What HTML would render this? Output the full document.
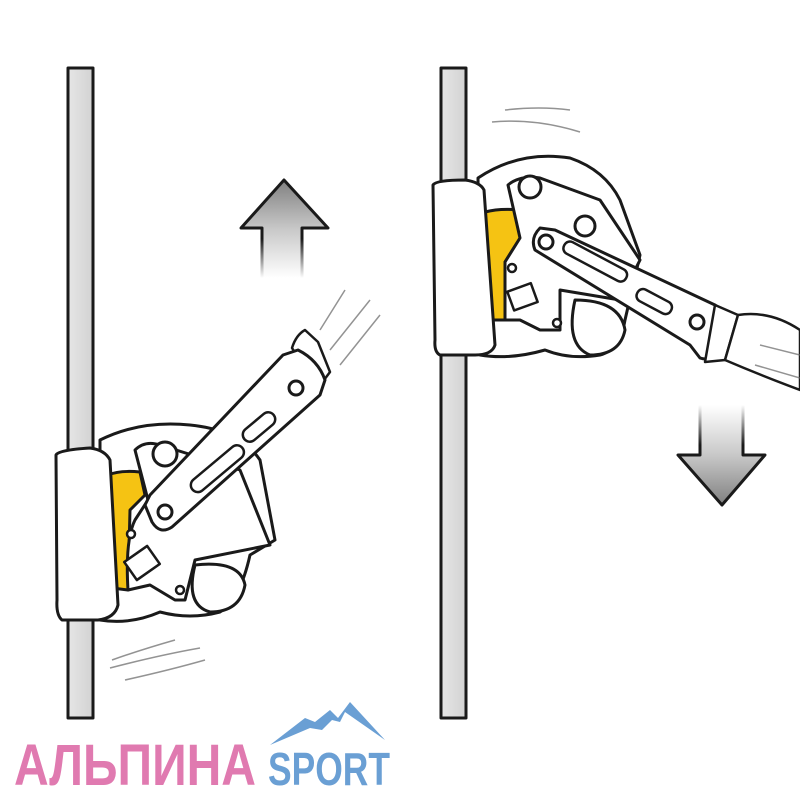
<!DOCTYPE html>
<html><head><meta charset="utf-8"><style>
html,body{margin:0;padding:0;background:#fff;width:800px;height:800px;overflow:hidden}
</style></head><body>
<svg width="800" height="800" viewBox="0 0 800 800" xmlns="http://www.w3.org/2000/svg">
<defs>
<linearGradient id="gu" x1="0" y1="180" x2="0" y2="278" gradientUnits="userSpaceOnUse"><stop offset="0" stop-color="#808080"/><stop offset="0.5" stop-color="#c8c8c8"/><stop offset="1" stop-color="#fff"/></linearGradient>
<linearGradient id="gus" x1="0" y1="180" x2="0" y2="278" gradientUnits="userSpaceOnUse"><stop offset="0" stop-color="#1a1a1a"/><stop offset="0.6" stop-color="#1a1a1a"/><stop offset="1" stop-color="#fff"/></linearGradient>
<linearGradient id="gd" x1="0" y1="505" x2="0" y2="405" gradientUnits="userSpaceOnUse"><stop offset="0" stop-color="#808080"/><stop offset="0.5" stop-color="#c8c8c8"/><stop offset="1" stop-color="#fff"/></linearGradient>
<linearGradient id="gds" x1="0" y1="505" x2="0" y2="405" gradientUnits="userSpaceOnUse"><stop offset="0" stop-color="#1a1a1a"/><stop offset="0.6" stop-color="#1a1a1a"/><stop offset="1" stop-color="#fff"/></linearGradient>
<linearGradient id="rp" x1="0" y1="0" x2="1" y2="0"><stop offset="0" stop-color="#e6e6e6"/><stop offset="1" stop-color="#d2d2d2"/></linearGradient>
</defs>
<g stroke="#1a1a1a" stroke-width="3" stroke-linejoin="round" stroke-linecap="round">
<rect x="68" y="68" width="25" height="650" fill="url(#rp)"/>
<rect x="441" y="68" width="25" height="650" fill="url(#rp)"/>

<!-- LEFT DEVICE -->
<path d="M100 440 Q140 420 190 425 Q240 430 260 460 L275 540 L250 555 Q240 600 220 612 Q190 620 160 612 Q130 625 100 620 Z" fill="#fff"/>
<path d="M195 565 Q240 560 245 585 Q240 612 210 612 Q185 605 195 565Z" fill="#fff"/>
<path d="M108 475 Q120 470 140 472 L145 495 L130 510 L128 590 L112 588 Q105 530 108 475Z" fill="#f5c313"/>
<path d="M135 450 Q145 440 160 445 L240 470 L270 545 L195 560 L185 600 L175 600 L150 585 L128 590 Q125 540 135 520 L148 500 Z" fill="#fff"/>
<rect x="128" y="552" width="28" height="22" transform="rotate(-35 142 563)" fill="#fff" stroke-width="2.5"/>
<circle cx="131" cy="534" r="4" fill="#fff" stroke-width="2.5"/>
<circle cx="180" cy="590" r="4" fill="#fff" stroke-width="2.5"/>
<!-- left sleeve -->
<path d="M292 348 Q296 335 305 330 L318 342 L330 372 L318 388 Z" fill="#fff" stroke-width="2.5"/>
<!-- lever left -->
<path d="M283 355 L298 350 Q318 360 325 380 L320 395 L172 527 Q160 535 152 522 L145 505 L150 495 Z" fill="#fff"/>
<circle cx="165" cy="454" r="12" fill="#fff"/>
<circle cx="165" cy="512" r="7" fill="#fff"/>
<circle cx="296" cy="388" r="7" fill="#fff"/>
<rect x="185" y="462" width="65" height="14" rx="7" transform="rotate(-40 217 469)" fill="#fff" stroke-width="2.5"/>
<rect x="240" y="420" width="38" height="14" rx="7" transform="rotate(-40 259 427)" fill="#fff" stroke-width="2.5"/>
<path d="M56 455 Q58 450 90 448 Q105 450 110 460 L118 605 Q115 618 98 620 L62 620 Q56 615 57 600 Z" fill="#fff"/>

<!-- RIGHT DEVICE -->
<path d="M478 178 Q520 150 570 158 Q605 170 620 200 L640 255 L625 320 Q620 350 600 355 Q570 360 545 350 Q510 360 480 355 Z" fill="#fff"/>
<path d="M575 300 Q620 300 625 330 Q620 355 590 355 Q565 345 575 300Z" fill="#fff"/>
<path d="M485 212 Q500 208 520 210 L522 235 L505 262 L505 320 L490 320 Q482 265 485 212Z" fill="#f5c313"/>
<path d="M508 185 Q520 175 540 178 L600 200 L640 260 L620 300 L560 290 L560 330 L540 330 L520 320 L505 320 L505 262 L520 238 Z" fill="#fff"/>
<circle cx="530" cy="187" r="11" fill="#fff"/>
<circle cx="585" cy="226" r="10" fill="#fff"/>
<rect x="510" y="287" width="25" height="20" transform="rotate(-20 522 297)" fill="#fff" stroke-width="2.5"/>
<circle cx="512" cy="268" r="4" fill="#fff" stroke-width="2.5"/>
<circle cx="557" cy="323" r="4" fill="#fff" stroke-width="2.5"/>
<path d="M540 228 Q530 238 535 250 L690 345 L700 358 Q712 362 720 350 L735 320 L715 305 L555 230 Z" fill="#fff"/>
<circle cx="546" cy="242" r="7" fill="#fff"/>
<circle cx="697" cy="322" r="7" fill="#fff"/>
<rect x="560" y="255" width="70" height="13" rx="6" transform="rotate(28 595 262)" fill="#fff" stroke-width="2.5"/>
<rect x="635" y="295" width="38" height="13" rx="6" transform="rotate(28 654 302)" fill="#fff" stroke-width="2.5"/>
<path d="M715 305 L738 315 L725 360 L705 362 Z" fill="#fff" stroke-width="2.5"/>
<path d="M738 315 Q770 310 800 330 L800 390 Q760 375 725 360 Z" fill="#fff" stroke-width="2.5"/>
<path d="M433 185 Q436 180 465 180 Q480 182 484 190 L495 345 Q492 355 475 355 L440 355 Q434 352 435 340 Z" fill="#fff"/>
</g>
<g stroke="#666" stroke-width="1.5" fill="none" opacity="0.7">
<path d="M320 330 L345 290"/><path d="M330 350 L370 300"/><path d="M340 365 L380 315"/>
<path d="M110 668 Q160 655 200 648"/><path d="M125 680 Q170 670 205 660"/><path d="M112 660 Q140 650 175 640"/>
<path d="M505 110 Q540 106 570 110"/><path d="M492 122 Q535 118 580 132"/>
<path d="M760 345 L800 355"/><path d="M755 365 L800 378"/>
</g>
<!-- arrows -->
<path d="M284 180 L328 228 L302 228 L302 278 L262 278 L262 228 L241 228 Z" fill="url(#gu)"/>
<path d="M262 278 L262 228 L241 228 L284 180 L328 228 L302 228 L302 278" fill="none" stroke="url(#gus)" stroke-width="3" stroke-linejoin="round"/>
<path d="M722 505 L765 455 L743 455 L743 405 L700 405 L700 455 L678 455 Z" fill="url(#gd)"/>
<path d="M743 405 L743 455 L765 455 L722 505 L678 455 L700 455 L700 405" fill="none" stroke="url(#gds)" stroke-width="3" stroke-linejoin="round"/>
<!-- logo -->
<text x="14" y="785" font-family="Liberation Sans, DejaVu Sans, sans-serif" font-weight="bold" font-size="58" fill="#e07ab0" textLength="242" lengthAdjust="spacingAndGlyphs">АЛЬПИНА</text>
<text x="268" y="785" font-family="Liberation Sans, DejaVu Sans, sans-serif" font-weight="bold" font-size="46" fill="#6a9fd4" textLength="122" lengthAdjust="spacingAndGlyphs">SPORT</text>
<path d="M270 745 L305 718 L315 722 L330 710 L338 718 L350 702 L385 740 L345 712 L340 722 L332 720 L322 730 L310 728 Z" fill="#6a9fd4"/>
</svg>
</body></html>
